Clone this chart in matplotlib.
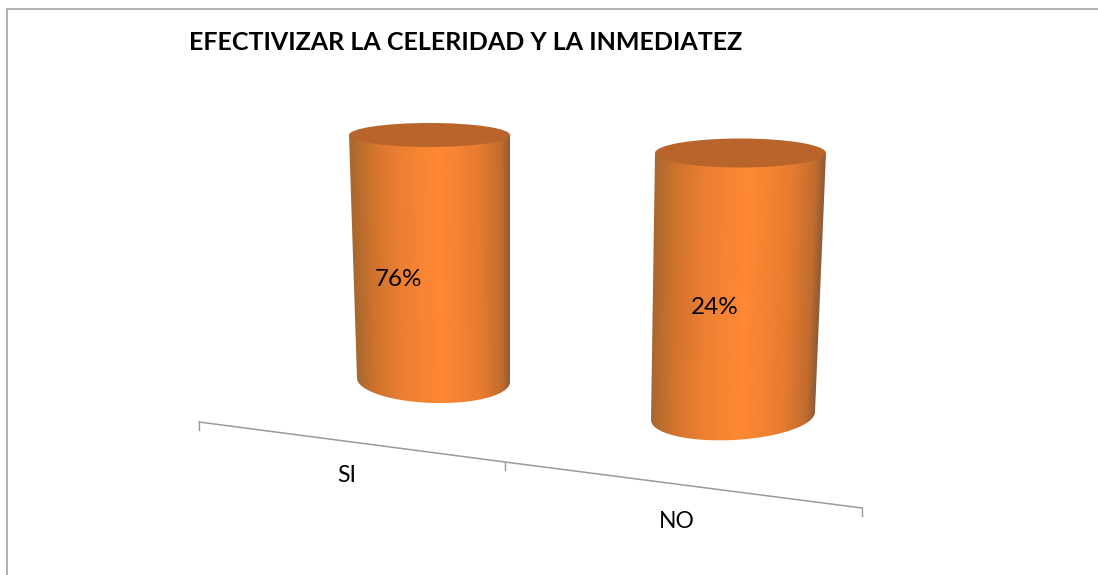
import numpy as np
import matplotlib
matplotlib.use("Agg")
import matplotlib.pyplot as plt
from matplotlib.colors import LinearSegmentedColormap
from matplotlib.patches import Ellipse, PathPatch
from matplotlib.path import Path

categories = ["SI", "NO"]
bar_values = [100, 100]
labels = ["76%", "24%"]
title = "EFECTIVIZAR LA CELERIDAD Y LA INMEDIATEZ"

plt.rcParams['font.family'] = ['Lato', 'DejaVu Sans']

W, H = 1098, 575
fig = plt.figure(figsize=(W / 100, H / 100), dpi=100)
ax = fig.add_axes([0, 0, 1, 1])
ax.set_xlim(0, W)
ax.set_ylim(H, 0)
ax.axis('off')

# outer frame of the chart, open at the bottom right like the source
ax.plot([6.5, 6.5, 1097.5], [575, 8.5, 8.5], color='#a6a6a6', lw=1.2)

# layout of each cylinder in pixels (base centre, top centre, half widths, half heights)
base_cx = [433.5, 733]
base_cy = [380, 416]
full_h = [245, 263]
top_cx = [429.5, 740.5]
top_rx = [80.5, 85.5]
base_rx = [76.5, 82]
top_ry = [12, 14.5]
base_ry = [23, 24]
base_tilt = [-2, 4]

edge_cmap = LinearSegmentedColormap.from_list(
    'cyl', [(0, '#a9682f'), (0.12, '#cf732c'), (0.3, '#ec7f32'), (0.55, '#ff8934'),
            (0.8, '#e97c30'), (0.95, '#c06c2e'), (1, '#8f5c38')])


def draw_cylinder(i, value):
    y_top = base_cy[i] - value / 100 * full_h[i]
    y_base = base_cy[i]

    ys = np.arange(np.floor(y_top) - 25, y_base + base_ry[i] + 6)
    xs = np.arange(base_cx[i] - 100, base_cx[i] + 100)
    X, Y = np.meshgrid(xs, ys)
    f = (Y - y_top) / (y_base - y_top)
    left = (top_cx[i] - top_rx[i]) + f * ((base_cx[i] - base_rx[i]) - (top_cx[i] - top_rx[i]))
    right = (top_cx[i] + top_rx[i]) + f * ((base_cx[i] + base_rx[i]) - (top_cx[i] + top_rx[i]))
    t = np.clip((X - left) / (right - left), 0, 1)
    im = ax.imshow(t, cmap=edge_cmap, vmin=0, vmax=1, interpolation='bilinear', aspect='auto',
                   extent=[xs[0], xs[-1], ys[-1], ys[0]], zorder=2)

    # body outline: top edge, slanted side, lower half of the base ellipse, other side
    a = np.linspace(np.pi, 0, 60)
    bx = base_cx[i] + base_rx[i] * np.cos(a)
    by = y_base + base_ry[i] * np.sin(a) + base_tilt[i] * np.cos(a) * -1
    verts = [(top_cx[i] - top_rx[i], y_top)] + list(zip(bx, by)) + [(top_cx[i] + top_rx[i], y_top),
                                                                    (top_cx[i] - top_rx[i], y_top)]
    clip = PathPatch(Path(verts), transform=ax.transData, fc='none', ec='none')
    ax.add_patch(clip)
    im.set_clip_path(clip)

    ax.add_patch(Ellipse((top_cx[i], y_top), 2 * top_rx[i], 2 * top_ry[i], fc='#b9642a', ec='none', zorder=3))


for i, v in enumerate(bar_values):
    draw_cylinder(i, v)
ax.set_xlim(0, W)
ax.set_ylim(H, 0)

# floor axis
axis_x = [199, 505, 862]
axis_y = [422, 462, 508]
ax.plot(axis_x, axis_y, color='#9a9a9a', lw=1.1, zorder=1)
for x, y in zip(axis_x, axis_y):
    ax.plot([x, x], [y, y + 8], color='#9a9a9a', lw=1.0, zorder=1)

label_x = [398, 715]
label_y = [279, 307]
for i, lab in enumerate(labels):
    ax.text(label_x[i], label_y[i], lab, fontsize=17.5, ha='center', va='center', color='black', zorder=5)

cat_x = [347, 677]
cat_y = [476, 521]
for i, c in enumerate(categories):
    ax.text(cat_x[i], cat_y[i], c, fontsize=16.5, ha='center', va='center', color='black')

ax.text(189, 42.5, title, fontsize=18, fontweight='bold', ha='left', va='center', color='black')

fig.savefig('out.png', dpi=100)
